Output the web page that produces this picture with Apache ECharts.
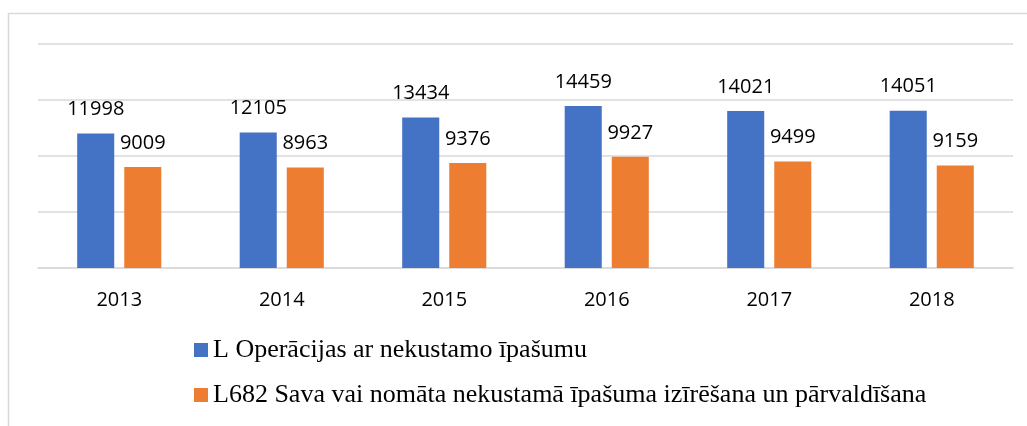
<!DOCTYPE html>
<html>
<head>
<meta charset="utf-8">
<script src="https://cdn.jsdelivr.net/npm/echarts@6/dist/echarts.min.js"></script>
<style>
  html, body { margin: 0; padding: 0; background: #fff; }
  #chart { width: 1027px; height: 426px; }
</style>
</head>
<body>
<div id="chart"></div>
<script>
var years = ['2013', '2014', '2015', '2016', '2017', '2018'];
var seriesL = [11998, 12105, 13434, 14459, 14021, 14051];
var seriesL682 = [9009, 8963, 9376, 9927, 9499, 9159];
var nameL = 'L Operācijas ar nekustamo īpašumu';
var nameL682 = 'L682 Sava vai nomāta nekustamā īpašuma izīrēšana un pārvaldīšana';

var myChart = echarts.init(document.getElementById('chart'));

var labelStyle = {
    show: true,
    position: 'top',
    distance: 14,
    color: '#000',
    fontFamily: 'Open Sans',
    fontSize: 20
};

var option = {
    animation: false,
    graphic: [{
        type: 'rect',
        shape: { x: 8.5, y: 13.5, width: 1030, height: 430 },
        style: { fill: 'none', stroke: '#d9d9d9', lineWidth: 1.5 },
        silent: true
    }],
    grid: {
        left: 38,
        right: 14,
        top: 44,
        bottom: 158
    },
    legend: {
        orient: 'vertical',
        left: 194,
        top: 337,
        padding: 0,
        itemWidth: 14,
        itemHeight: 14,
        itemGap: 19,
        icon: 'rect',
        textStyle: {
            fontFamily: 'Liberation Serif',
            fontSize: 26,
            color: '#000'
        },
        data: [nameL, nameL682]
    },
    xAxis: {
        type: 'category',
        data: years,
        axisTick: { show: false },
        axisLine: { lineStyle: { color: '#d9d9d9', width: 1.5 } },
        axisLabel: {
            margin: 22,
            color: '#000',
            fontFamily: 'Open Sans',
            fontSize: 20
        }
    },
    yAxis: {
        type: 'value',
        min: 0,
        max: 20000,
        interval: 5000,
        axisLabel: { show: false },
        axisLine: { show: false },
        axisTick: { show: false },
        splitLine: { lineStyle: { color: '#d9d9d9', width: 1.5 } }
    },
    series: [
        {
            name: nameL,
            type: 'bar',
            data: seriesL,
            barWidth: '22.8%',
            barGap: '27%',
            itemStyle: { color: '#4472c4' },
            label: labelStyle
        },
        {
            name: nameL682,
            type: 'bar',
            data: seriesL682,
            barWidth: '22.8%',
            itemStyle: { color: '#ed7d31' },
            label: labelStyle
        }
    ]
};
myChart.setOption(option);
</script>
</body>
</html>
